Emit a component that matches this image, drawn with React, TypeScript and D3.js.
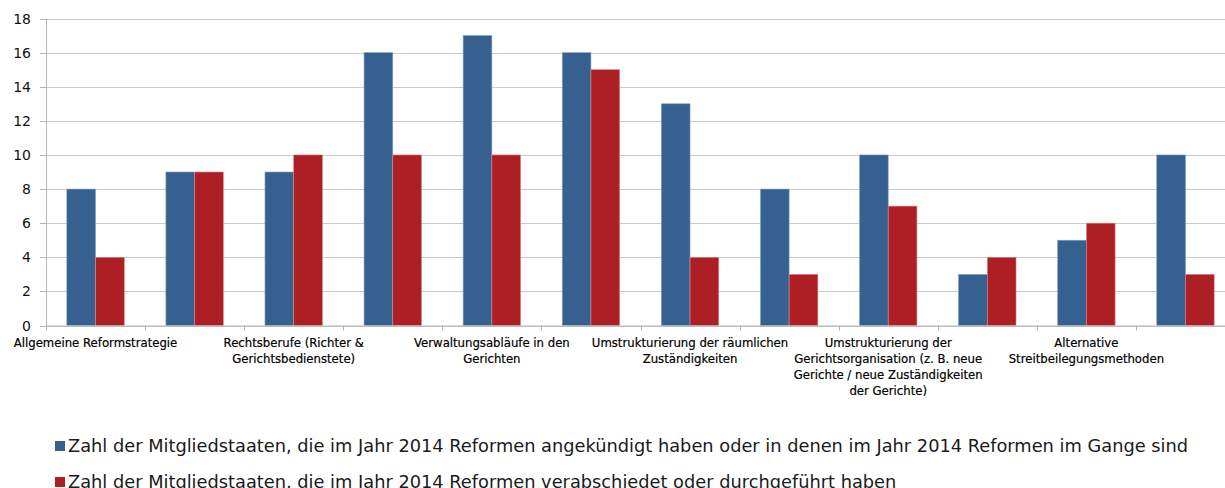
import React, { useEffect, useRef } from "react";
import * as d3 from "d3";

const categories: string[] = [
  "Allgemeine Reformstrategie",
  "",
  "Rechtsberufe (Richter &\nGerichtsbedienstete)",
  "",
  "Verwaltungsabläufe in den\nGerichten",
  "",
  "Umstrukturierung der räumlichen\nZuständigkeiten",
  "",
  "Umstrukturierung der\nGerichtsorganisation (z. B. neue\nGerichte / neue Zuständigkeiten\nder Gerichte)",
  "",
  "Alternative\nStreitbeilegungsmethoden",
  "",
];
const announced: number[] = [8, 9, 9, 16, 17, 16, 13, 8, 10, 3, 5, 10];
const adopted: number[] = [4, 9, 10, 10, 10, 15, 4, 3, 7, 4, 6, 3];
const yTicks: number[] = [0, 2, 4, 6, 8, 10, 12, 14, 16, 18];
const seriesNames: string[] = [
  "Zahl der Mitgliedstaaten, die im Jahr 2014 Reformen angekündigt haben oder in denen im Jahr 2014 Reformen im Gange sind",
  "Zahl der Mitgliedstaaten, die im Jahr 2014 Reformen verabschiedet oder durchgeführt haben",
];
const colors = ["#36608f", "#ae1f25"];

const W = 1225;
const H = 488;
const left = 46;
const right = 1235;
const top = 18.5;
const bottom = 325.5;

export default function App() {
  const ref = useRef<SVGSVGElement>(null);
  useEffect(() => {
    document.body.style.margin = "0";
    const svg = d3.select(ref.current);
    svg.selectAll("*").remove();
    const ids = categories.map((_, i) => String(i));
    const x = d3.scaleBand().domain(ids).range([left, right]).paddingInner(0.42).paddingOuter(0.21);
    const xStep = d3.scaleBand().domain(ids).range([left, right]);
    const y = d3.scaleLinear().domain([0, 18]).range([bottom, top]);
    const xs = d3.scaleBand().domain(["0", "1"]).range([0, x.bandwidth()]);
    const font = "DejaVu Sans, sans-serif";

    // grid
    svg.append("g").selectAll("line").data(yTicks).join("line")
      .attr("x1", left).attr("x2", right)
      .attr("y1", (d) => Math.round(y(d)) + 0.5).attr("y2", (d) => Math.round(y(d)) + 0.5)
      .attr("stroke", "#c9c9c9").attr("stroke-width", 1);
    // y ticks
    svg.append("g").selectAll("line").data(yTicks).join("line")
      .attr("x1", left - 6).attr("x2", left)
      .attr("y1", (d) => Math.round(y(d)) + 0.5).attr("y2", (d) => Math.round(y(d)) + 0.5)
      .attr("stroke", "#b3b3b3");
    svg.append("line").attr("x1", left + 0.5).attr("x2", left + 0.5).attr("y1", top).attr("y2", bottom + 0.5)
      .attr("stroke", "#b3b3b3");
    svg.append("g").selectAll("text").data(yTicks).join("text")
      .attr("x", 31).attr("y", (d) => y(d) + 5)
      .attr("text-anchor", "end").attr("font-family", font).attr("font-size", 14)
      .attr("fill", "#111").text((d) => d);

    // x ticks
    const tickXs = ids.map((id) => xStep(id)!).concat([right]);
    svg.append("g").selectAll("line").data(tickXs).join("line")
      .attr("x1", (d) => Math.round(d) + 0.5).attr("x2", (d) => Math.round(d) + 0.5)
      .attr("y1", bottom).attr("y2", bottom + 5).attr("stroke", "#b3b3b3");

    const series = [announced, adopted];
    series.forEach((vals, s) => {
      svg.append("g").selectAll("rect").data(vals).join("rect")
        .attr("x", (_, i) => x(ids[i])! + xs(String(s))!)
        .attr("width", xs.bandwidth())
        .attr("y", (d) => y(d))
        .attr("height", (d) => y(0) - y(d))
        .attr("fill", colors[s])
        .attr("stroke", s === 0 ? "#8aa3c0" : "#d98a8d").attr("stroke-width", 0.6);
    });

    // x labels
    const lbl = svg.append("g");
    categories.forEach((c, i) => {
      if (!c) return;
      const cx = xStep(ids[i])! + xStep.bandwidth() / 2;
      const t = lbl.append("text").attr("text-anchor", "middle").attr("font-family", font)
        .attr("font-size", 11.7).attr("fill", "#000").attr("stroke", "#000").attr("stroke-width", 0.2);
      c.split("\n").forEach((line, k) => {
        t.append("tspan").attr("x", cx).attr("y", 347 + k * 16).text(line);
      });
    });

    // baseline
    svg.append("line").attr("x1", left).attr("x2", right).attr("y1", bottom + 0.5).attr("y2", bottom + 0.5)
      .attr("stroke", "#b3b3b3");

    // legend
    seriesNames.forEach((n, s) => {
      const yy = 452 + s * 36;
      svg.append("rect").attr("x", 55).attr("y", yy - 11).attr("width", 10).attr("height", 10).attr("fill", colors[s]);
      svg.append("text").attr("x", 68).attr("y", yy).attr("font-family", font).attr("font-size", 17.8)
        .attr("fill", "#1a1a1a").text(n);
    });
  }, []);
  return <svg ref={ref} width={W} height={H} style={{ display: "block", background: "#fff" }} />;
}
